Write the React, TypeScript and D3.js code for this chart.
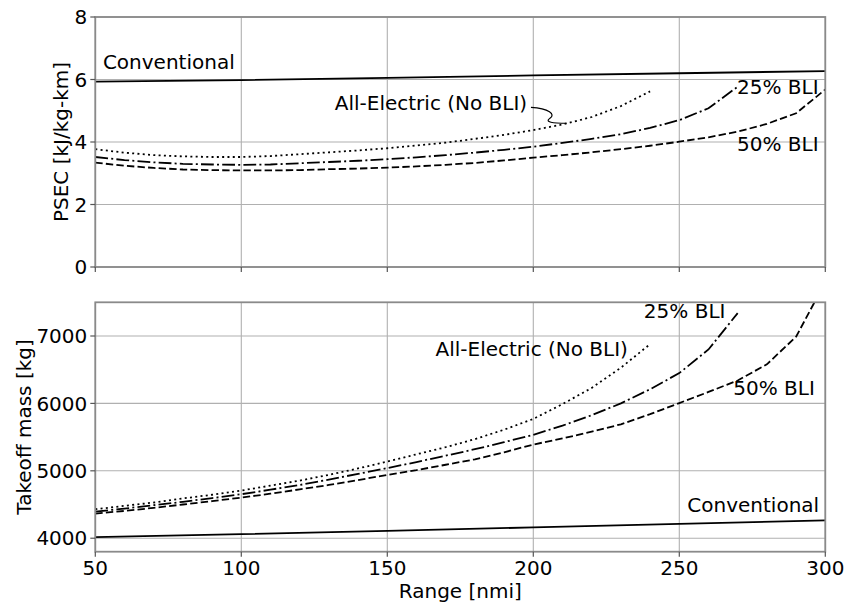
import React from "react";
import * as d3 from "d3";

// ---- data ----
const rangeAE = [50, 60, 70, 80, 90, 100, 110, 120, 130, 140, 150, 160, 170, 180, 190, 200, 210, 220, 230, 240];
const range25 = [50, 60, 70, 80, 90, 100, 110, 120, 130, 140, 150, 160, 170, 180, 190, 200, 210, 220, 230, 240, 250, 260, 270];
const range50 = [50, 60, 70, 80, 90, 100, 110, 120, 130, 140, 150, 160, 170, 180, 190, 200, 210, 220, 230, 240, 250, 260, 270, 280, 290, 300];
const rangeConv = [50, 100, 150, 200, 250, 300];

const psecAE = [3.77, 3.66, 3.58, 3.54, 3.52, 3.52, 3.55, 3.61, 3.67, 3.73, 3.8, 3.89, 3.98, 4.1, 4.23, 4.38, 4.56, 4.8, 5.15, 5.62];
const psec25 = [3.52, 3.42, 3.35, 3.3, 3.28, 3.27, 3.28, 3.32, 3.36, 3.4, 3.45, 3.51, 3.58, 3.66, 3.75, 3.85, 3.97, 4.1, 4.25, 4.45, 4.7, 5.08, 5.77];
const psec50 = [3.34, 3.24, 3.17, 3.12, 3.1, 3.09, 3.09, 3.1, 3.13, 3.15, 3.18, 3.22, 3.27, 3.33, 3.41, 3.5, 3.58, 3.67, 3.77, 3.88, 4.01, 4.15, 4.33, 4.58, 4.92, 5.68];
const psecConv = [5.93, 5.98, 6.05, 6.13, 6.2, 6.27];

const massAE = [4430, 4480, 4530, 4590, 4645, 4707, 4780, 4855, 4940, 5035, 5138, 5245, 5350, 5470, 5610, 5770, 5990, 6230, 6530, 6880];
const mass25 = [4395, 4440, 4490, 4540, 4595, 4653, 4720, 4790, 4870, 4955, 5040, 5130, 5225, 5320, 5425, 5534, 5670, 5825, 6000, 6210, 6450, 6800, 7340];
const mass50 = [4365, 4405, 4450, 4500, 4550, 4603, 4660, 4725, 4790, 4862, 4940, 5010, 5090, 5170, 5275, 5390, 5480, 5580, 5690, 5840, 6005, 6170, 6340, 6580, 6990, 7800];
const massConv = [4015, 4060, 4110, 4160, 4212, 4265];

const xTicks = [50, 100, 150, 200, 250, 300];
const psecTicks = [0, 2, 4, 6, 8];
const massTicks = [4000, 5000, 6000, 7000];

const FONT = "DejaVu Sans";
const FS = 20;
const LW = 1.8;
const GRID = "#b0b0b0";
const SPINE = "#8a8a8a";

const DOT = `${1 * 2} ${1.65 * 2}`;
const DASH = `${3.7 * 2} ${1.6 * 2}`;
const DASHDOT = `${6.4 * 2} ${1.6 * 2} ${1 * 2} ${1.6 * 2}`;

const left = 95.3;
const right = 825.3;
const topY0 = 17;
const topY1 = 267;
const botY0 = 302.3;
const botY1 = 551.7;

const x = d3.scaleLinear().domain([50, 300]).range([left, right]);
const yTop = d3.scaleLinear().domain([0, 8]).range([topY1, topY0]);
const yBot = d3.scaleLinear().domain([3800, 7500]).range([botY1, botY0]);

function mk(xs: number[], ys: number[]) {
  return xs.map((v, i) => [v, ys[i]] as [number, number]);
}

function Panel(props: {
  y: d3.ScaleLinear<number, number>;
  y0: number;
  y1: number;
  ticks: number[];
  series: { pts: [number, number][]; dash?: string }[];
  id: string;
  showXLabels: boolean;
}) {
  const { y, y0, y1, ticks, series, id, showXLabels } = props;
  const line = d3
    .line<[number, number]>()
    .x((d) => x(d[0]))
    .y((d) => y(d[1]));
  return (
    <g>
      <defs>
        <clipPath id={id}>
          <rect x={left} y={y0} width={right - left} height={y1 - y0} />
        </clipPath>
      </defs>
      {xTicks.map((t) => (
        <line key={"gx" + t} x1={x(t)} x2={x(t)} y1={y0} y2={y1} stroke={GRID} strokeWidth={1.1} />
      ))}
      {ticks.map((t) => (
        <line key={"gy" + t} x1={left} x2={right} y1={y(t)} y2={y(t)} stroke={GRID} strokeWidth={1.1} />
      ))}
      <g clipPath={`url(#${id})`}>
        {series.map((s, i) => (
          <path key={i} d={line(s.pts) || ""} fill="none" stroke="#000" strokeWidth={LW} strokeDasharray={s.dash} />
        ))}
      </g>
      <rect x={left} y={y0} width={right - left} height={y1 - y0} fill="none" stroke={SPINE} strokeWidth={1.8} />
      {ticks.map((t) => (
        <g key={"ty" + t}>
          <line x1={left - 5} x2={left} y1={y(t)} y2={y(t)} stroke="#555" strokeWidth={1.2} />
          <text x={left - 8} y={y(t)} dy="0.36em" textAnchor="end" fontFamily={FONT} fontSize={FS} fill="#000">
            {t}
          </text>
        </g>
      ))}
      {xTicks.map((t) => (
        <g key={"tx" + t}>
          <line x1={x(t)} x2={x(t)} y1={y1} y2={y1 + 5} stroke="#555" strokeWidth={1.2} />
          {showXLabels && (
            <text x={x(t)} y={y1 + 23} textAnchor="middle" fontFamily={FONT} fontSize={FS} fill="#000">
              {t}
            </text>
          )}
        </g>
      ))}
    </g>
  );
}

export default function App() {
  const topSeries = [
    { pts: mk(rangeConv, psecConv) },
    { pts: mk(rangeAE, psecAE), dash: DOT },
    { pts: mk(range25, psec25), dash: DASHDOT },
    { pts: mk(range50, psec50), dash: DASH },
  ];
  const botSeries = [
    { pts: mk(rangeConv, massConv) },
    { pts: mk(rangeAE, massAE), dash: DOT },
    { pts: mk(range25, mass25), dash: DASHDOT },
    { pts: mk(range50, mass50), dash: DASH },
  ];

  // leader for All-Electric annotation (top panel)
  const sx = x(199.2);
  const sy = yTop(5.11);
  const ex = x(211.4);
  const ey = yTop(4.6);
  const leader = `M${sx},${sy} C${sx + 18},${sy + 1} ${sx + 25},${sy + 7} ${sx + 19},${sy + 11} C${sx + 13},${sy + 15} ${sx + 22},${ey} ${ex},${ey}`;

  const txt = (props: any, s: string) => (
    <text fontFamily={FONT} fontSize={FS} fill="#000" {...props}>
      {s}
    </text>
  );

  return (
    <svg width={847} height={602} style={{ position: "absolute", left: 0, top: 0, background: "#fff" }}>
      <rect x={0} y={0} width={847} height={602} fill="#fff" />
      <Panel y={yTop} y0={topY0} y1={topY1} ticks={psecTicks} series={topSeries} id="clipTop" showXLabels={false} />
      <Panel y={yBot} y0={botY0} y1={botY1} ticks={massTicks} series={botSeries} id="clipBot" showXLabels={true} />

      {/* top annotations */}
      {txt({ x: x(52.6), y: yTop(6.34) }, "Conventional")}
      {txt({ x: x(197.9), y: yTop(5.04), textAnchor: "end" }, "All-Electric (No BLI)")}
      <path d={leader} fill="none" stroke="#000" strokeWidth={1.2} />
      {txt({ x: x(297.7), y: yTop(5.54), textAnchor: "end" }, "25% BLI")}
      {txt({ x: x(297.7), y: yTop(3.72), textAnchor: "end" }, "50% BLI")}

      {/* bottom annotations */}
      {txt({ x: x(265.8), y: yBot(7262), textAnchor: "end" }, "25% BLI")}
      {txt({ x: x(232.4), y: yBot(6707), textAnchor: "end" }, "All-Electric (No BLI)")}
      {txt({ x: x(296.4), y: yBot(6120), textAnchor: "end" }, "50% BLI")}
      {txt({ x: x(297.9), y: yBot(4383), textAnchor: "end" }, "Conventional")}

      {/* axis labels */}
      <text
        transform={`translate(68,${(topY0 + topY1) / 2}) rotate(-90)`}
        textAnchor="middle"
        fontFamily={FONT}
        fontSize={FS}
        fill="#000"
      >
        PSEC [kJ/kg-km]
      </text>
      <text
        transform={`translate(31,${(botY0 + botY1) / 2}) rotate(-90)`}
        textAnchor="middle"
        fontFamily={FONT}
        fontSize={FS}
        fill="#000"
      >
        Takeoff mass [kg]
      </text>
      <text x={(left + right) / 2} y={598} textAnchor="middle" fontFamily={FONT} fontSize={FS} fill="#000">
        Range [nmi]
      </text>
    </svg>
  );
}
